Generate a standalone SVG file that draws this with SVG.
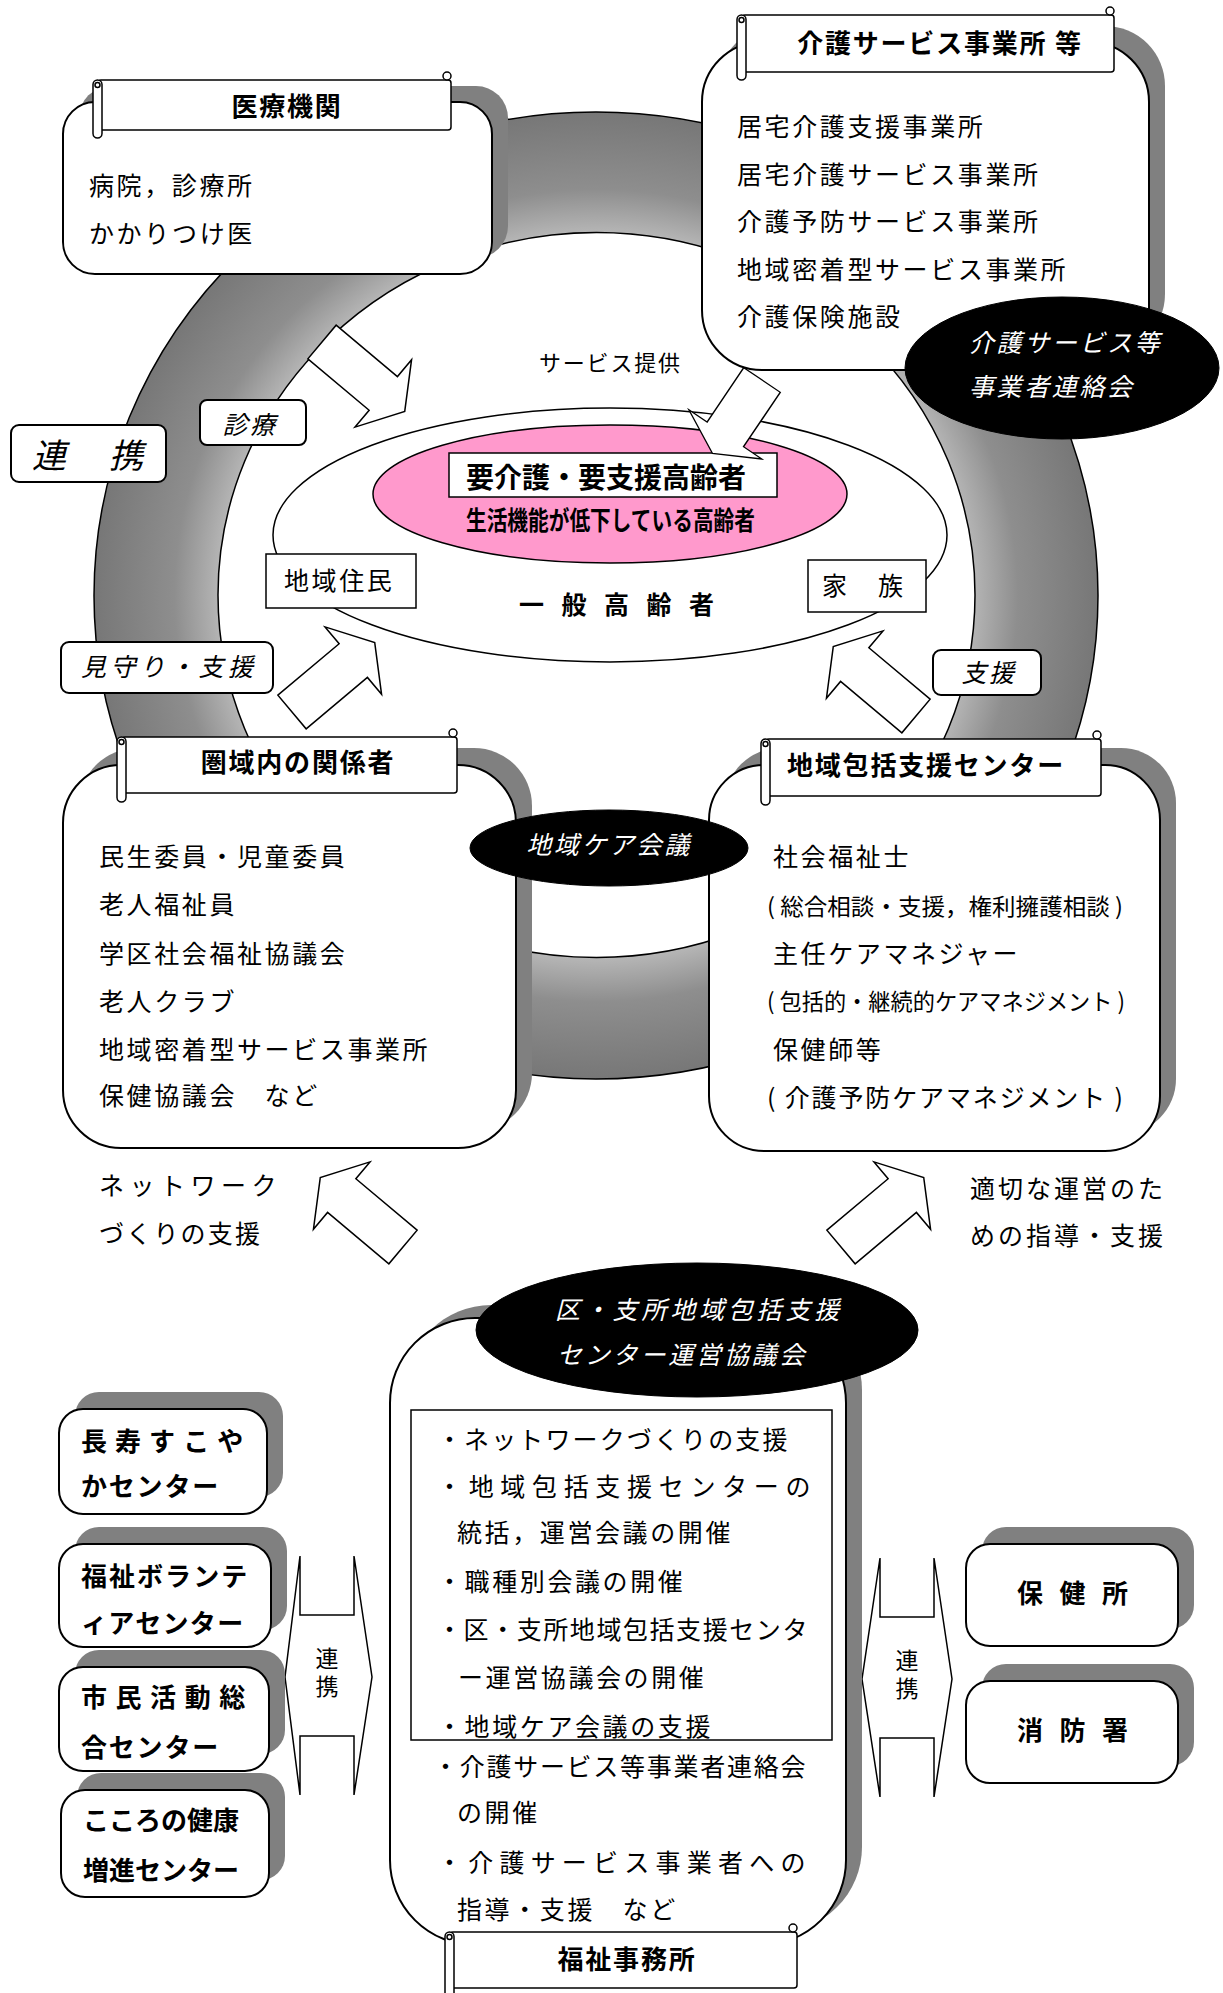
<svg xmlns="http://www.w3.org/2000/svg" width="1223" height="1993" viewBox="0 0 1223 1993">
<defs>
<radialGradient id="rg" cx="0.5" cy="0.5" r="0.5">
<stop offset="0.745" stop-color="#b8b8b8"/>
<stop offset="0.84" stop-color="#8e8e8e"/>
<stop offset="1" stop-color="#777777"/>
</radialGradient>
<polygon id="arw" points="0,-22 80,-22 80,-44 108,0 80,44 80,22 0,22"/>
</defs>
<style>
.t{font-family:"Noto Sans CJK JP","Noto Sans CJK SC",sans-serif;font-size:25px;letter-spacing:2.6px;fill:#000}
.b{font-weight:bold;font-size:26px;letter-spacing:1.8px}
.i{font-style:italic}
.w{fill:#fff}
.box{fill:#fff;stroke:#000;stroke-width:2}
.sh{fill:#808080}
.ln{fill:#fff;stroke:#000;stroke-width:1.5}
.dk{fill:#000;stroke:#000;stroke-width:1}
.m{text-anchor:middle}
.v{writing-mode:vertical-rl;font-size:23px;letter-spacing:5px}
</style>
<rect width="1223" height="1993" fill="#fff"/>

<g id="ring">
<path d="M94 595.5A502 483.5 0 1 0 1098 595.5A502 483.5 0 1 0 94 595.5ZM218 595A378 362 0 1 0 975 595A378 362 0 1 0 218 595Z" fill-rule="evenodd" fill="url(#rg)" stroke="#000" stroke-width="1.5"/>
</g>

<g id="general-elderly">
<ellipse cx="610" cy="535" rx="337" ry="127" class="ln"/>
<ellipse cx="610" cy="494" rx="237" ry="69" fill="#ff99cc" stroke="#000" stroke-width="1.5"/>
<rect x="449" y="453" width="328" height="44" class="ln"/>
<text class="t b" x="466" y="488" style="font-size:28px;letter-spacing:0">要介護・要支援高齢者</text>
<text class="t b" x="466" y="530" textLength="289" lengthAdjust="spacingAndGlyphs" style="font-size:26px;letter-spacing:0">生活機能が低下している高齢者</text>
<text class="t b" x="519" y="614" style="font-size:25px;letter-spacing:17.5px">一般高齢者</text>
</g>

<g id="residents">
<rect x="266" y="554" width="150" height="54" class="ln"/>
<text class="t" x="284" y="590">地域住民</text>
</g>
<g id="family">
<rect x="808" y="560" width="118" height="52" class="ln"/>
<text class="t" x="822" y="595" style="letter-spacing:3px">家　族</text>
</g>

<g id="connectors">
<use href="#arw" class="ln" transform="translate(322,342) rotate(40)"/>
<use href="#arw" class="ln" transform="translate(762,380) rotate(124) scale(0.82,1)"/>
<use href="#arw" class="ln" transform="translate(292,712) rotate(-40)"/>
<use href="#arw" class="ln" transform="translate(916,716) rotate(-140)"/>
<use href="#arw" class="ln" transform="translate(403,1247) rotate(-140)"/>
<use href="#arw" class="ln" transform="translate(841,1247) rotate(-40)"/>
<polygon class="ln" points="300,1556 300,1615 354,1615 354,1556 372,1677 354,1795 354,1736 300,1736 300,1795 285,1677"/>
<polygon class="ln" points="880,1558 880,1617 934,1617 934,1558 952,1679 934,1797 934,1738 880,1738 880,1797 862,1679"/>
<path d="M492 1354C476 1360 470 1375 476 1395L469 1396L487 1415L493 1392L486 1394C482 1380 485 1368 493 1363Z" fill="#d0d0d0" stroke="#000" stroke-width="1.2"/>
</g>

<g id="label-shinryo">
<rect x="200" y="400" width="106" height="45" rx="7" class="box"/>
<text class="t i m" x="250" y="434">診療</text>
</g>
<g id="label-service">
<text class="t" x="539" y="371" style="font-size:22px;letter-spacing:1.8px">サービス提供</text>
</g>
<g id="label-renkei">
<rect x="11" y="425" width="155" height="57" rx="8" class="box"/>
<text class="t i" x="32" y="468" style="font-size:34px;letter-spacing:4.5px">連　携</text>
</g>
<g id="label-mimamori">
<rect x="61" y="642" width="212" height="51" rx="8" class="box"/>
<text class="t i" x="81" y="676" style="letter-spacing:4.4px">見守り・支援</text>
</g>
<g id="label-shien">
<rect x="933" y="650" width="108" height="45" rx="8" class="box"/>
<text class="t i m" x="989" y="682">支援</text>
</g>

<g id="medical">
<rect x="79" y="86" width="429" height="172" rx="32" class="sh"/>
<rect x="63" y="102" width="429" height="172" rx="32" class="box"/>
<rect x="98" y="80" width="353" height="50" rx="3" class="ln"/>
<rect x="93" y="80" width="9" height="58" rx="4.5" class="ln"/>
<circle cx="97.5" cy="85" r="2.5" class="ln"/>
<circle cx="447" cy="76" r="4" class="ln"/>
<text class="t b m" x="287" y="116">医療機関</text>
<text class="t" x="89" y="195">病院，診療所</text>
<text class="t" x="89" y="243">かかりつけ医</text>
</g>

<g id="care-services">
<rect x="718" y="26" width="447" height="328" rx="60" class="sh"/>
<rect x="702" y="42" width="447" height="328" rx="60" class="box"/>
<rect x="742" y="15" width="372" height="57" rx="3" class="ln"/>
<rect x="737" y="15" width="9" height="65" rx="4.5" class="ln"/>
<circle cx="741.5" cy="20" r="2.5" class="ln"/>
<circle cx="1110" cy="11" r="4" class="ln"/>
<text class="t b m" x="940" y="53">介護サービス事業所 等</text>
<text class="t" x="737" y="136">居宅介護支援事業所</text>
<text class="t" x="737" y="184">居宅介護サービス事業所</text>
<text class="t" x="737" y="231">介護予防サービス事業所</text>
<text class="t" x="737" y="279">地域密着型サービス事業所</text>
<text class="t" x="737" y="326">介護保険施設</text>
</g>
<g id="care-liaison">
<ellipse cx="1062" cy="368" rx="157" ry="71" class="dk"/>
<text class="t i w" x="969" y="352">介護サービス等</text>
<text class="t i w" x="969" y="396">事業者連絡会</text>
</g>

<g id="local-people">
<rect x="79" y="748" width="453" height="383" rx="58" class="sh"/>
<rect x="63" y="765" width="453" height="383" rx="58" class="box"/>
<rect x="122" y="737" width="335" height="56" rx="3" class="ln"/>
<rect x="117" y="737" width="9" height="65" rx="4.5" class="ln"/>
<circle cx="121.5" cy="742" r="2.5" class="ln"/>
<circle cx="453" cy="733" r="4" class="ln"/>
<text class="t b m" x="298" y="772">圏域内の関係者</text>
<text class="t" x="99" y="866">民生委員・児童委員</text>
<text class="t" x="99" y="914">老人福祉員</text>
<text class="t" x="99" y="963">学区社会福祉協議会</text>
<text class="t" x="99" y="1011">老人クラブ</text>
<text class="t" x="99" y="1059">地域密着型サービス事業所</text>
<text class="t" x="99" y="1105">保健協議会　など</text>
</g>

<g id="support-center">
<rect x="725" y="748" width="451" height="386" rx="55" class="sh"/>
<rect x="709" y="765" width="451" height="386" rx="55" class="box"/>
<rect x="766" y="739" width="335" height="57" rx="3" class="ln"/>
<rect x="761" y="739" width="9" height="66" rx="4.5" class="ln"/>
<circle cx="765.5" cy="744" r="2.5" class="ln"/>
<circle cx="1097" cy="735" r="4" class="ln"/>
<text class="t b" x="787" y="775">地域包括支援センター</text>
<text class="t" x="773" y="866">社会福祉士</text>
<text class="t" x="767" y="915" textLength="356" lengthAdjust="spacingAndGlyphs" style="font-size:23px;letter-spacing:0">( 総合相談・支援，権利擁護相談 )</text>
<text class="t" x="773" y="963">主任ケアマネジャー</text>
<text class="t" x="767" y="1010" textLength="358" lengthAdjust="spacingAndGlyphs" style="font-size:23px;letter-spacing:0">( 包括的・継続的ケアマネジメント )</text>
<text class="t" x="773" y="1059">保健師等</text>
<text class="t" x="767" y="1107" textLength="356" lengthAdjust="spacing" style="letter-spacing:0">( 介護予防ケアマネジメント )</text>
</g>

<g id="care-meeting">
<ellipse cx="609" cy="848" rx="139" ry="38" class="dk"/>
<text class="t i w m" x="609" y="854">地域ケア会議</text>
</g>

<g id="label-network">
<text class="t" x="99" y="1195" textLength="180" lengthAdjust="spacing">ネットワーク</text>
<text class="t" x="99" y="1243" style="letter-spacing:2.2px">づくりの支援</text>
</g>
<g id="label-guidance">
<text class="t" x="970" y="1198" style="letter-spacing:3px">適切な運営のた</text>
<text class="t" x="970" y="1245" style="letter-spacing:3px">めの指導・支援</text>
</g>

<g id="welfare-office">
<rect x="406" y="1305" width="456" height="627" rx="85" class="sh"/>
<rect x="390" y="1318" width="456" height="627" rx="85" class="box"/>
<rect x="411" y="1410" width="421" height="330" fill="none" stroke="#000" stroke-width="1.5"/>
<text class="t" x="437" y="1449" textLength="353" lengthAdjust="spacing">・ネットワークづくりの支援</text>
<text class="t" x="437" y="1496" textLength="376" lengthAdjust="spacing">・地域包括支援センターの</text>
<text class="t" x="457" y="1542">統括，運営会議の開催</text>
<text class="t" x="437" y="1591">・職種別会議の開催</text>
<text class="t" x="437" y="1639" textLength="373" lengthAdjust="spacing">・区・支所地域包括支援センタ</text>
<text class="t" x="458" y="1687">ー運営協議会の開催</text>
<text class="t" x="437" y="1736">・地域ケア会議の支援</text>
<text class="t" x="433" y="1776" textLength="375" lengthAdjust="spacing">・介護サービス等事業者連絡会</text>
<text class="t" x="457" y="1822">の開催</text>
<text class="t" x="437" y="1872" textLength="371" lengthAdjust="spacing">・介護サービス事業者への</text>
<text class="t" x="457" y="1919">指導・支援　など</text>
<rect x="450" y="1932" width="347" height="56" rx="3" class="ln"/>
<rect x="445" y="1932" width="9" height="70" rx="4.5" class="ln"/>
<circle cx="449.5" cy="1937" r="2.5" class="ln"/>
<circle cx="793" cy="1928" r="4" class="ln"/>
<text class="t b m" x="627" y="1969">福祉事務所</text>
</g>

<g id="steering-council">
<ellipse cx="697" cy="1330" rx="221" ry="67" class="dk"/>
<text class="t i w" x="555" y="1319" style="letter-spacing:3.8px">区・支所地域包括支援</text>
<text class="t i w" x="557" y="1364" style="letter-spacing:2.8px">センター運営協議会</text>
</g>

<g id="choju">
<rect x="75" y="1392" width="208" height="105" rx="24" class="sh"/>
<rect x="59" y="1409" width="208" height="105" rx="24" class="box"/>
<text class="t b" x="81" y="1451" textLength="164" lengthAdjust="spacing">長寿すこや</text>
<text class="t b" x="81" y="1496">かセンター</text>
</g>
<g id="volunteer">
<rect x="75" y="1527" width="212" height="103" rx="24" class="sh"/>
<rect x="59" y="1544" width="212" height="103" rx="24" class="box"/>
<text class="t b" x="81" y="1586" textLength="168" lengthAdjust="spacing">福祉ボランテ</text>
<text class="t b" x="81" y="1633" textLength="164" lengthAdjust="spacing">ィアセンター</text>
</g>
<g id="citizen">
<rect x="75" y="1650" width="210" height="104" rx="24" class="sh"/>
<rect x="59" y="1667" width="210" height="104" rx="24" class="box"/>
<text class="t b" x="81" y="1707" textLength="166" lengthAdjust="spacing">市民活動総</text>
<text class="t b" x="81" y="1757">合センター</text>
</g>
<g id="mental">
<rect x="77" y="1773" width="208" height="107" rx="24" class="sh"/>
<rect x="61" y="1790" width="208" height="107" rx="24" class="box"/>
<text class="t b" x="83" y="1830" style="letter-spacing:0">こころの健康</text>
<text class="t b" x="83" y="1880" style="letter-spacing:0">増進センター</text>
</g>
<g id="renkei-left">
<text class="t v" x="327" y="1647">連携</text>
</g>
<g id="renkei-right">
<text class="t v" x="907" y="1649">連携</text>
</g>
<g id="health-center">
<rect x="982" y="1527" width="212" height="102" rx="24" class="sh"/>
<rect x="966" y="1544" width="212" height="102" rx="24" class="box"/>
<text class="t b" x="1017" y="1603" style="letter-spacing:16.5px">保健所</text>
</g>
<g id="fire-station">
<rect x="982" y="1664" width="212" height="102" rx="24" class="sh"/>
<rect x="966" y="1681" width="212" height="102" rx="24" class="box"/>
<text class="t b" x="1017" y="1740" style="letter-spacing:16.5px">消防署</text>
</g>
</svg>
